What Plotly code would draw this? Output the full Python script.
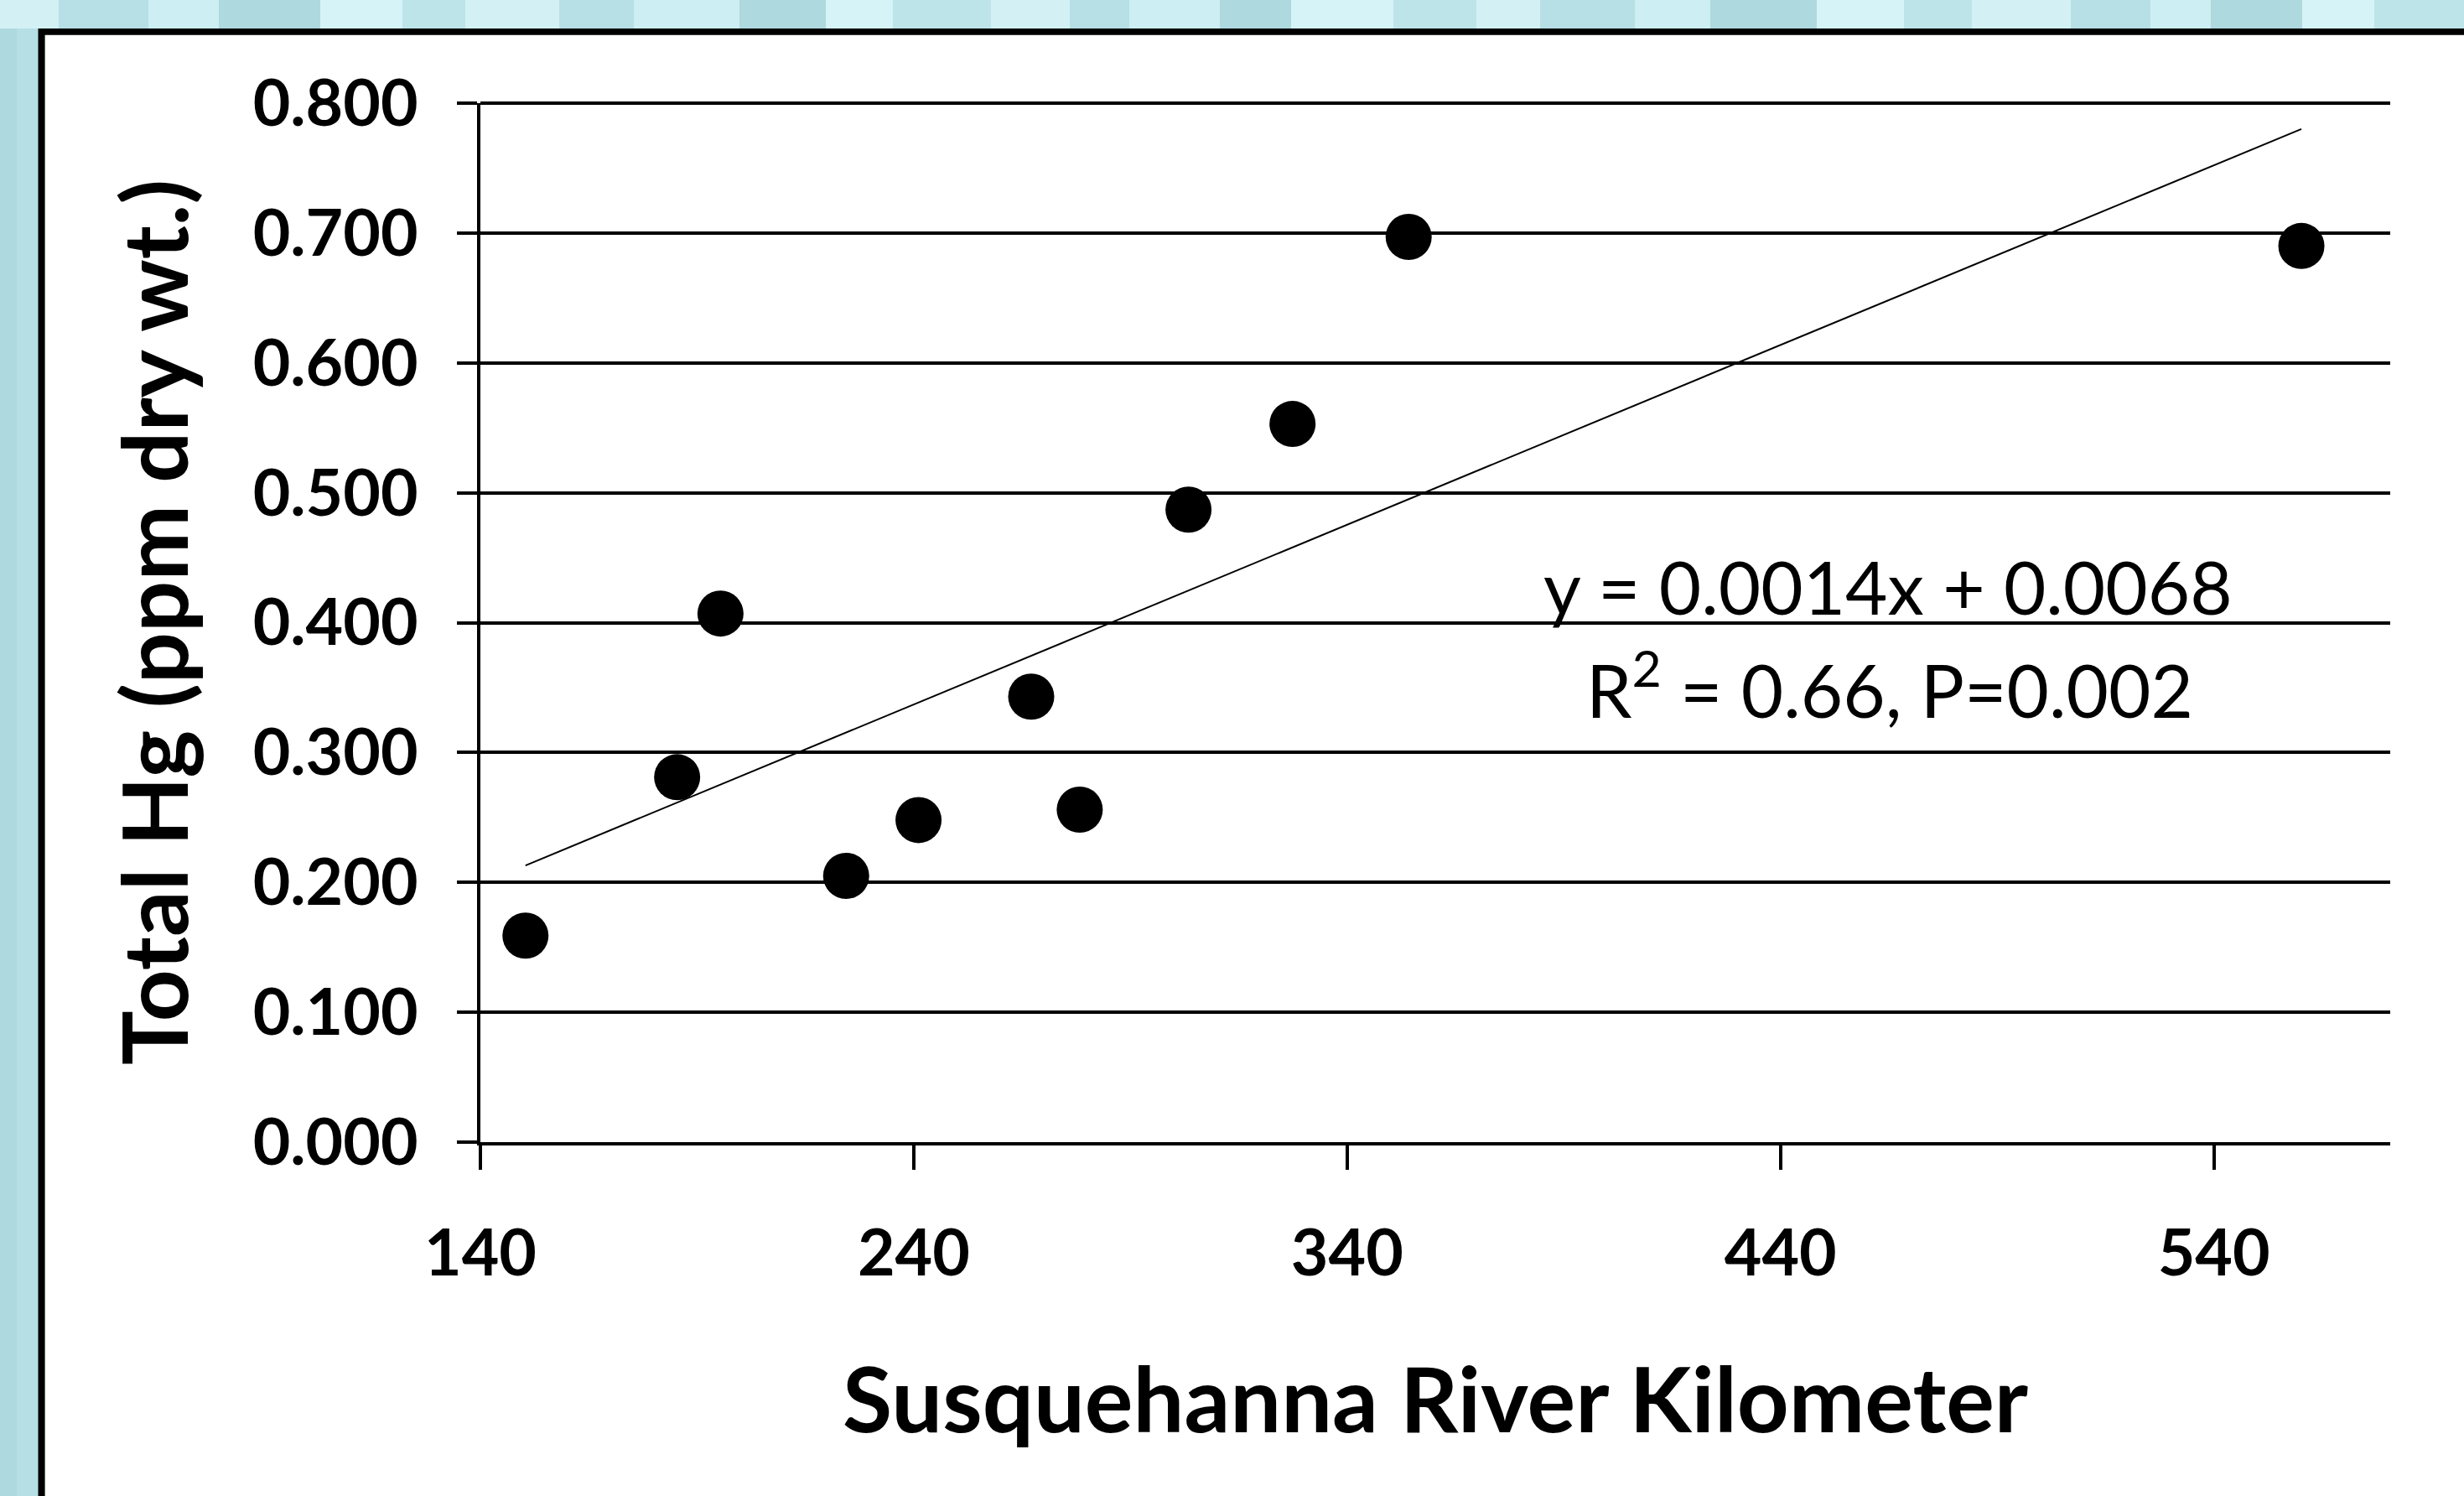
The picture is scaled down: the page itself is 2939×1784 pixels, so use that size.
import numpy as np
import plotly.graph_objects as go

# ---- data ----
river_km = [150.4, 185.4, 195.4, 224.4, 241.1, 267.1, 278.3, 303.4, 327.4, 354.2, 560.2]
total_hg = [0.159, 0.281, 0.407, 0.205, 0.248, 0.343, 0.256, 0.487, 0.553, 0.697, 0.690]

x_ticks = [140, 240, 340, 440, 540]
y_ticks = [0.0, 0.1, 0.2, 0.3, 0.4, 0.5, 0.6, 0.7, 0.8]
y_range = [0.0, 0.8]

x_title = "Susquehanna River Kilometer"
y_title = "Total Hg (ppm dry wt.)"
eq_line1 = "y = 0.0014x + 0.0068"
eq_line2 = "R<sup>2</sup> = 0.66, P=0.002"

# ---- layout geometry ----
W, H = 2939, 1784
ML, MR, MT, MB = 573, 88, 123, 422
PW, PH = W - ML - MR, H - MT - MB
FONT = "Lato"


def px(xp):
    return (xp - ML) / PW


def py(yp):
    return (H - MB - yp) / PH


# linear trend fitted to the data (Excel-style trendline)
slope, intercept = np.polyfit(river_km, total_hg, 1)
tx = np.array([min(river_km), max(river_km)])
ty = slope * tx + intercept

fig = go.Figure()
fig.add_trace(go.Scatter(
    x=tx, y=ty, mode="lines",
    line=dict(color="black", width=2),
    hoverinfo="skip", showlegend=False,
))
fig.add_trace(go.Scatter(
    x=river_km, y=total_hg, mode="markers",
    marker=dict(color="black", size=55, line=dict(width=0)),
    showlegend=False,
))

shapes = []
# decorative light-blue slide background stripes (top band)
stripe_cols = ["#d3f1f5", "#b6e0e5", "#cdeef2", "#aed9de", "#d6f3f7", "#bde4e9"]
sx = 0
i = 0
while sx < W:
    wdt = 70 + (i * 37) % 60
    shapes.append(dict(type="rect", xref="paper", yref="paper",
                       x0=px(sx), x1=px(sx + wdt), y0=py(0), y1=py(40),
                       fillcolor=stripe_cols[i % len(stripe_cols)], line=dict(width=0),
                       layer="below"))
    sx += wdt
    i += 1
# left band
shapes.append(dict(type="rect", xref="paper", yref="paper",
                   x0=px(0), x1=px(48), y0=py(34), y1=py(H),
                   fillcolor="#aed9de", line=dict(width=0), layer="below"))
shapes.append(dict(type="rect", xref="paper", yref="paper",
                   x0=px(20), x1=px(48), y0=py(34), y1=py(H),
                   fillcolor="#b5dfe4", line=dict(width=0), layer="below"))
# black frame + white panel
shapes.append(dict(type="rect", xref="paper", yref="paper",
                   x0=px(45.5), x1=px(W + 20), y0=py(34), y1=py(H + 20),
                   fillcolor="black", line=dict(width=0), layer="below"))
shapes.append(dict(type="rect", xref="paper", yref="paper",
                   x0=px(53.6), x1=px(W + 20), y0=py(41.7), y1=py(H + 20),
                   fillcolor="white", line=dict(width=0), layer="below"))
# top gridline at the upper range edge (plotly skips it at the boundary);
# drawn in paper coords so it is not clipped by the plot area
top_frac = (y_ticks[-1] - y_range[0]) / (y_range[1] - y_range[0])
shapes.append(dict(type="line", xref="paper", yref="paper",
                   x0=0, x1=1, y0=top_frac, y1=top_frac,
                   line=dict(color="black", width=4), layer="below"))

annotations = [
    dict(text=f"<b>{x_title}</b>", xref="paper", yref="paper",
         x=px(1712), y=py(1666), xanchor="center", yanchor="middle",
         showarrow=False, font=dict(family=FONT, size=108, color="black")),
    dict(text=f"<b>{y_title}</b>", xref="paper", yref="paper",
         x=px(182), y=py(742), xanchor="center", yanchor="middle", textangle=-90,
         showarrow=False, font=dict(family=FONT, size=108, color="black")),
    dict(text=eq_line1, xref="paper", yref="paper",
         x=px(2252), y=py(699), xanchor="center", yanchor="middle",
         showarrow=False, font=dict(family=FONT, size=87, color="black")),
    dict(text=eq_line2, xref="paper", yref="paper",
         x=px(2254), y=py(817), xanchor="center", yanchor="middle",
         showarrow=False, font=dict(family=FONT, size=87, color="black")),
]

fig.update_layout(
    width=W, height=H,
    margin=dict(l=ML, r=MR, t=MT, b=MB, pad=0),
    paper_bgcolor="#c4e7ec",
    plot_bgcolor="rgba(0,0,0,0)",
    shapes=shapes,
    annotations=annotations,
    showlegend=False,
    font=dict(family=FONT, color="black"),
)
fig.update_xaxes(
    range=[140, 580.7], tickvals=x_ticks, ticktext=[str(v) for v in x_ticks],
    showgrid=False, zeroline=False,
    showline=True, linecolor="black", linewidth=4,
    ticks="outside", ticklen=29, tickwidth=4, tickcolor="black",
    tickfont=dict(family=FONT, size=77, color="black", weight="bold"),
    ticklabelstandoff=34,
)
fig.update_yaxes(
    range=y_range, tickvals=y_ticks, tickformat=".3f",
    showgrid=True, gridcolor="black", gridwidth=4, zeroline=False,
    showline=True, linecolor="black", linewidth=4,
    ticks="outside", ticklen=24, tickwidth=4, tickcolor="black",
    tickfont=dict(family=FONT, size=77, color="black", weight="bold"),
    ticklabelstandoff=31,
)

fig.write_html(
    "out.html",
    config={"displayModeBar": False},
    post_script="document.body.style.margin='0';document.body.style.padding='0';"
                "document.body.style.overflow='hidden';",
)
